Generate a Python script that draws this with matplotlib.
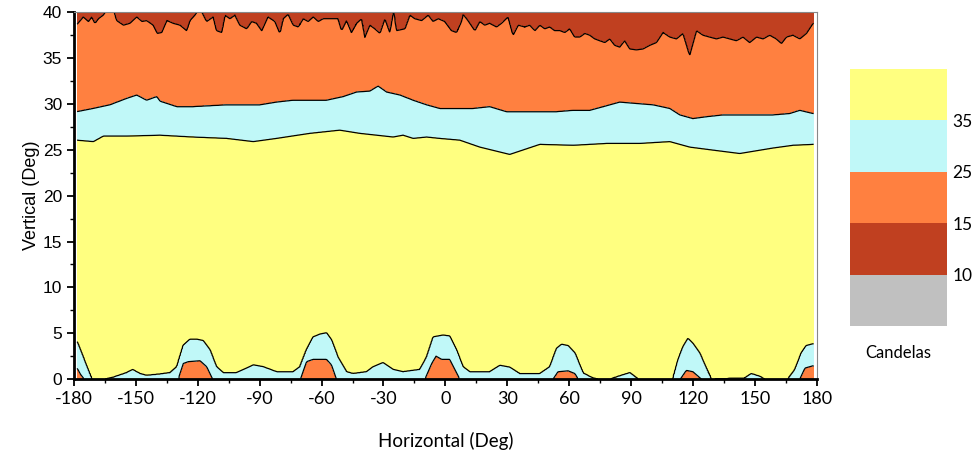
import matplotlib
matplotlib.use('Agg')
import matplotlib.pyplot as plt
import numpy as np

plt.rcParams['axes.unicode_minus'] = False

# boundary of the 10-15 cd band (dark red / orange)
h15 = [-178.5, -175.5, -173, -171.4, -169.8, -168.2, -165.8, -163.5, -161, -159.3,
       -156, -152.9, -149.6, -147, -144.8, -141.6, -139.6, -137.5, -135, -131.9,
       -128.6, -125.4, -123.8, -121.4, -119, -115.7, -112.5, -110.9, -108.4, -106.8,
       -104.4, -102, -99.6, -96.3, -93.9, -91.5, -89, -86, -82.6, -80.2,
       -78.6, -76.2, -73.7, -71.3, -68.9, -66.5, -64, -61.6, -59.2, -55,
       -52, -50.3, -47.9, -45.5, -43, -40.6, -39, -36.6, -34.2, -31.7,
       -29.3, -26.9, -25, -23.7, -19.6, -17.2, -14.8, -11.5, -8.3, -5.9,
       -3.5, -0.3, 3, 5.4, 7.8, 8.6, 11, 14.3, 16.7, 19.1,
       21.5, 24.8, 27.2, 30.4, 32.8, 35.3, 38.5, 40.9, 43.4, 45.8,
       48.2, 50.6, 53, 55.5, 57.9, 60.3, 62.7, 65.2, 67.6, 70,
       72.4, 74.8, 77.3, 79.7, 82.1, 84.5, 86.9, 89.4, 92.6, 95.8,
       99.1, 102.3, 105.5, 108.8, 112, 115.2, 118.4, 121.7, 124.9, 128.1,
       131.4, 134.6, 137.8, 141.1, 144.3, 147.5, 150.8, 154, 157.2, 160.4,
       162.9, 165.3, 168.5, 171.8, 175, 178.2]
v15 = [38.7, 39.5, 39.0, 39.5, 38.8, 39.3, 39.7, 40.5, 40.5, 39.1,
       38.6, 38.8, 39.5, 39.0, 39.1, 38.6, 37.7, 37.8, 39.1, 38.8,
       38.6, 38.0, 39.1, 39.7, 40.5, 39.0, 39.5, 38.0, 37.8, 39.7,
       39.3, 39.7, 38.6, 38.2, 39.0, 38.8, 38.0, 39.5, 39.0, 37.7,
       39.3, 39.8, 38.6, 38.4, 39.3, 39.0, 39.5, 39.0, 39.3, 39.3,
       39.3, 38.0, 39.1, 37.8, 38.8, 39.3, 37.3, 38.6, 38.2, 37.7,
       39.3, 37.8, 40.3, 38.0, 38.2, 39.7, 39.3, 39.1, 39.7, 39.0,
       39.3, 39.0, 38.0, 37.8, 39.0, 39.8, 39.1, 38.0, 39.0, 38.6,
       38.8, 38.4, 38.8, 39.5, 37.5, 38.6, 38.4, 38.6, 38.0, 38.6,
       38.2, 38.4, 38.0, 38.0, 37.8, 38.2, 37.3, 37.3, 37.7, 37.5,
       37.1, 36.9, 36.7, 37.1, 36.4, 36.2, 36.9, 36.0, 35.9, 36.0,
       36.4, 36.7, 37.8, 37.3, 37.1, 37.7, 35.3, 38.0, 37.5, 37.3,
       37.1, 37.3, 37.1, 36.9, 37.3, 36.7, 37.3, 37.1, 37.5, 37.1,
       36.6, 37.3, 37.5, 37.1, 37.7, 38.8]

# upper 25 cd boundary (orange / cyan)
h25_top = [-178.7, -170.8, -162.6, -154.5, -149.6, -144.8, -139.9, -138.3, -130.2, -122.2,
           -114.1, -106, -98, -89.9, -81.8, -73.8, -65.7, -57.6, -49.5, -43,
           -36.6, -32.6, -28.5, -22, -15.6, -9.1, -2.7, 5.4, 13.4, 21.5,
           29.6, 37.7, 45.8, 53.9, 62, 70, 76.5, 84.5, 92.6, 100.7,
           108.8, 113.6, 120, 126.5, 134.6, 142.7, 150.8, 158.8, 166.9, 171.8, 178.2]
v25_top = [29.15, 29.5, 29.9, 30.6, 30.97, 30.4, 30.8, 30.3, 29.7, 29.7,
           29.8, 29.9, 29.9, 29.9, 30.2, 30.4, 30.4, 30.4, 30.8, 31.3,
           31.4, 31.95, 31.3, 30.97, 30.4, 29.9, 29.5, 29.5, 29.5, 29.7,
           29.15, 29.15, 29.15, 29.15, 29.3, 29.3, 29.7, 30.2, 30.05, 29.9,
           29.5, 28.8, 28.4, 28.6, 28.8, 28.8, 28.8, 28.8, 28.95, 29.3, 28.95]

# upper 35 cd boundary (cyan / yellow)
h35_top = [-178.7, -170.6, -165.8, -154.5, -138.3, -122.2, -106, -93.1, -81.8, -65.7,
           -51.2, -41.5, -25.3, -20.5, -15.6, -9.1, -2.7, 7, 16.7, 31.2,
           45.8, 62, 78.1, 94.2, 108.8, 118.5, 129.8, 142.7, 158.8, 168.5, 178.2]
v35_top = [26.06, 25.9, 26.5, 26.5, 26.6, 26.4, 26.25, 25.9, 26.25, 26.8,
           27.15, 26.8, 26.4, 26.6, 26.25, 26.4, 26.25, 26.06, 25.3, 24.5,
           25.6, 25.5, 25.7, 25.7, 25.9, 25.3, 24.97, 24.6, 25.2, 25.5, 25.6]

# lower 35 cd boundary (cyan bumps near the horizon)
h35_low = [-178.4, -175.5, -171.4, -165, -161, -154.5, -151.6, -148, -144.8, -138.3,
           -133.5, -130.2, -127, -123.8, -120.5, -117.4, -114.1, -110.9, -107.7, -101.2,
           -96.3, -93.1, -88.3, -81.8, -73.8, -70.5, -67.3, -64.1, -60.9, -57.6,
           -55.2, -52, -47.9, -44.7, -38.2, -35, -30.2, -25.3, -20.5, -12.4,
           -9.1, -5.9, -1.1, 2.1, 5.4, 8.6, 11.8, 21.5, 26.4, 31.2,
           36, 45.8, 50.6, 53.9, 56.3, 59.5, 62.8, 66.8, 71.7, 74,
           80, 84.5, 89.4, 93.4, 110.3, 112.7, 115.2, 117.6, 120, 123.3,
           126.5, 128.9, 145, 148.3, 152.3, 154.7, 166, 169.3, 172.5, 174.9, 178.2]
v35_low = [4.07, 2.4, 0.0, 0.0, 0.2, 0.7, 1.05, 0.6, 0.4, 0.55,
           0.7, 1.35, 3.7, 4.35, 4.35, 4.2, 3.2, 1.35, 0.7, 0.7,
           1.2, 1.55, 1.35, 0.8, 0.8, 1.35, 3.2, 4.6, 4.9, 5.05,
           4.3, 2.4, 0.8, 0.6, 0.8, 1.35, 1.8, 1.05, 0.8, 1.05,
           2.4, 4.6, 4.8, 4.7, 3.2, 1.35, 0.8, 0.8, 1.5, 1.3,
           0.6, 0.6, 1.35, 3.35, 3.8, 3.65, 2.85, 0.65, 0.1, 0.0,
           0.0, 0.35, 0.7, 0.0, 0.0, 2.1, 3.55, 4.45, 3.9, 2.85,
           1.2, 0.0, 0.1, 0.6, 0.3, 0.0, 0.0, 1.0, 2.85, 3.65, 3.85]

# lower 25 cd boundary (orange bumps near the horizon)
h25_low = [-178.4, -176.8, -175, -129.5, -127, -124.6, -118.9, -115.7, -112.8, -70.2,
           -67.3, -64.1, -57.6, -55.2, -52.8, -9.9, -6.6, -4.5, -1.8, 2.1,
           4.6, 7, 52.2, 54.6, 59.5, 62.8, 64.4, 113.9, 116.8, 120,
           124.1, 171.8, 174.3, 178.2]
v25_low = [1.17, 0.5, 0.0, 0.0, 1.7, 1.9, 2.0, 1.35, 0.0, 0.0,
           1.9, 2.15, 2.15, 1.55, 0.0, 0.0, 1.7, 2.5, 2.15, 2.15,
           1.05, 0.0, 0.0, 0.8, 0.9, 0.6, 0.0, 0.0, 0.95, 0.8,
           0.0, 0.0, 1.2, 1.45]

levels = [0, 10, 15, 25, 35, 60]
colors = ['#c0c0c0', '#c04020', '#ff8040', '#c0f8f8', '#ffff80']
cbar_ticks = [10, 15, 25, 35]


def build_grid(h, v):
    b15 = np.interp(h, h15, v15)
    u25 = np.interp(h, h25_top, v25_top)
    u35 = np.interp(h, h35_top, v35_top)
    l35 = np.interp(h, h35_low, v35_low)
    l25 = np.interp(h, h25_low, v25_low)
    z = np.zeros((len(v), len(h)))
    for i in range(len(h)):
        if l25[i] > 0.01:
            z0 = max(25 - 10 * l25[i] / max(l35[i] - l25[i], 0.3), 16)
            pv = [0, l25[i], l35[i]]
            pz = [z0, 25, 35]
        elif l35[i] > 0.01:
            pv = [0, l35[i]]
            pz = [30, 35]
        else:
            pv = [0]
            pz = [37]
        pv += [15, u35[i], u25[i], b15[i], b15[i] + 1.5]
        pz += [50, 35, 25, 15, 11]
        z[:, i] = np.interp(v, pv, pz)
    return z


def main():
    h = np.arange(-178.5, 178.51, 0.5)
    v = np.arange(0, 40.001, 0.05)
    z = build_grid(h, v)

    fig = plt.figure(figsize=(9.76, 4.54), dpi=100)
    ax = fig.add_axes([0.0758, 0.165, 0.761, 0.808])
    cs = ax.contourf(h, v, z, levels=levels, colors=colors)
    ax.contour(h, v, z, levels=levels[1:-1], colors='black', linewidths=0.9)

    ax.set_xlim(-180, 180)
    ax.set_ylim(0, 40)
    ax.set_xticks(np.arange(-180, 181, 30))
    ax.set_xticks(np.arange(-165, 180, 30), minor=True)
    ax.set_yticks(np.arange(0, 41, 5))
    ax.set_yticks(np.arange(2.5, 40, 5), minor=True)
    ax.tick_params(which='major', direction='out', length=5, width=1.3)
    ax.tick_params(which='minor', direction='out', length=3, width=1.0)
    ax.tick_params(axis='y', labelsize=12.5)
    for lab in ax.get_yticklabels():
        lab.set_family('Liberation Sans')
    for lab in ax.get_xticklabels():
        lab.set_family('Lato')
        lab.set_fontsize(13)

    for side in ('left', 'bottom'):
        ax.spines[side].set_linewidth(2)
    for side in ('top', 'right'):
        ax.spines[side].set_linewidth(0.8)
        ax.spines[side].set_color('#888888')

    ax.set_xlabel('Horizontal (Deg)', family='Lato', fontsize=13.5, labelpad=18)
    ax.set_ylabel('Vertical (Deg)', family='Liberation Sans', fontsize=13, labelpad=2)

    cax = fig.add_axes([0.871, 0.282, 0.0994, 0.566])
    cb = fig.colorbar(cs, cax=cax, spacing='uniform')
    cb.outline.set_visible(False)
    cb.set_ticks(cbar_ticks)
    cb.ax.tick_params(length=0, pad=4)
    for lab in cb.ax.get_yticklabels():
        lab.set_family('Lato')
        lab.set_fontsize(12.5)
    cb.ax.set_xlabel('Candelas', family='Lato', fontsize=12, labelpad=14)

    fig.savefig('out.png', dpi=100)


if __name__ == '__main__':
    main()
